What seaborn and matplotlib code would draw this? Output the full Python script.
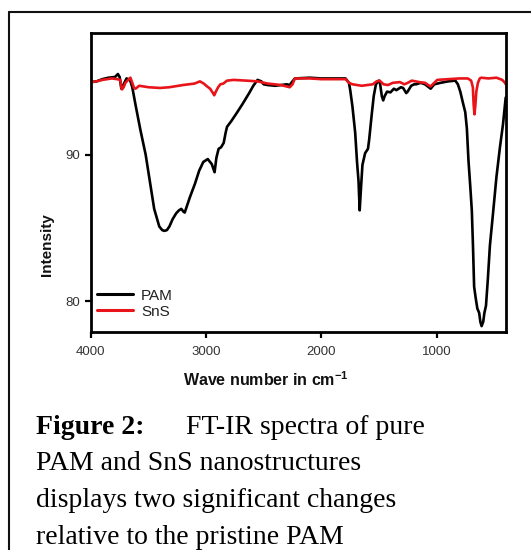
import matplotlib
matplotlib.use("Agg")
import matplotlib.pyplot as plt
import pandas as pd
import seaborn as sns
from matplotlib.lines import Line2D

# FT-IR data (wavenumber in cm-1, intensity)
pam_wn = [4000, 3950, 3900, 3847, 3790, 3765, 3750, 3735, 3715, 3690, 3660, 3640,
          3612, 3570, 3524, 3490, 3450, 3406, 3380, 3362, 3340, 3318, 3290, 3259,
          3235, 3215, 3195, 3185, 3140, 3097, 3060, 3024, 2985, 2950, 2935, 2926,
          2910, 2891, 2870, 2847, 2830, 2818, 2780, 2729, 2680, 2626, 2590, 2553,
          2520, 2500, 2465, 2400, 2347, 2300, 2274, 2250, 2229, 2100, 2000, 1900,
          1790, 1760, 1749, 1730, 1706, 1690, 1677, 1667, 1655, 1643, 1620, 1595,
          1585, 1563, 1545, 1526, 1500, 1491, 1475, 1463, 1450, 1429, 1400, 1370,
          1349, 1309, 1290, 1263, 1251, 1220, 1194, 1177, 1137, 1100, 1051, 1020,
          966, 900, 837, 815, 794, 770, 751, 737, 723, 708, 694, 684, 674, 660,
          646, 630, 620, 609, 595, 585, 571, 555, 537, 510, 480, 450, 423, 400]
pam_val = [94.95, 95.0, 95.15, 95.25, 95.3, 95.5, 95.3, 94.5, 94.8, 95.2, 95.1, 94.6,
           93.4, 91.7, 90.0, 88.3, 86.3, 85.1, 84.85, 84.8, 84.85, 85.1, 85.6, 86.0,
           86.2, 86.3, 86.1, 86.05, 87.1, 88.0, 88.9, 89.5, 89.7, 89.35, 89.0, 88.8,
           89.8, 90.4, 90.5, 90.8, 91.5, 91.9, 92.3, 92.9, 93.5, 94.2, 94.7, 95.1,
           95.0, 94.8, 94.75, 94.7, 94.75, 94.8, 94.75, 95.0, 95.2, 95.25, 95.2, 95.2,
           95.2, 94.9, 94.4, 93.3, 91.5, 89.5, 88.2, 86.2, 87.8, 89.3, 90.1, 90.4,
           91.0, 92.7, 94.0, 94.8, 95.05, 94.9, 94.0, 93.7, 94.0, 94.3, 94.25, 94.5,
           94.4, 94.6, 94.55, 94.2, 94.3, 94.7, 94.8, 94.8, 94.9, 94.8, 94.5, 94.8,
           94.9, 95.0, 95.05, 94.8, 94.3, 93.5, 92.9, 91.8, 89.6, 87.9, 86.2, 83.8,
           81.0, 80.2, 79.5, 79.2, 78.6, 78.3, 78.6, 79.2, 79.7, 81.5, 83.8, 86.0,
           88.5, 90.5, 92.1, 93.9]

sns_wn = [4000, 3950, 3900, 3818, 3770, 3744, 3735, 3729, 3715, 3700, 3670, 3656,
          3640, 3625, 3612, 3580, 3500, 3400, 3318, 3200, 3100, 3053, 3020, 2990,
          2965, 2940, 2929, 2915, 2895, 2876, 2850, 2818, 2760, 2650, 2553, 2465,
          2350, 2274, 2250, 2229, 2100, 2000, 1900, 1788, 1760, 1729, 1650, 1600,
          1553, 1520, 1494, 1460, 1421, 1380, 1318, 1280, 1250, 1215, 1150, 1100,
          1053, 1020, 994, 900, 800, 729, 700, 685, 678, 671, 664, 655, 641, 625,
          612, 550, 480, 430, 406, 400]
sns_val = [94.95, 95.0, 95.1, 95.2, 95.15, 95.1, 94.6, 94.45, 94.6, 94.9, 95.15, 95.25,
           94.9, 94.55, 94.5, 94.7, 94.6, 94.55, 94.6, 94.75, 94.85, 95.0, 94.85, 94.65,
           94.5, 94.2, 94.05, 94.3, 94.6, 94.8, 94.85, 95.05, 95.1, 95.05, 95.0, 94.85,
           94.75, 94.6, 94.8, 95.2, 95.2, 95.15, 95.15, 95.15, 94.9, 94.8, 94.7, 94.75,
           94.8, 95.0, 95.05, 94.8, 94.75, 94.9, 94.95, 94.8, 94.9, 95.05, 94.95, 94.9,
           94.65, 94.9, 95.1, 95.15, 95.2, 95.2, 95.05, 94.6, 93.4, 92.75, 93.3, 94.3,
           94.9, 95.2, 95.25, 95.2, 95.25, 95.1, 94.9, 94.8]

series_names = ["PAM", "SnS"]
series_colors = ["#000000", "#e8141a"]

df = pd.concat([
    pd.DataFrame({"wn": pam_wn, "val": pam_val, "sample": "PAM"}),
    pd.DataFrame({"wn": sns_wn, "val": sns_val, "sample": "SnS"}),
], ignore_index=True)

sns.set_style("ticks")
plt.rcParams["font.family"] = ["Liberation Sans", "DejaVu Sans"]
plt.rcParams["mathtext.fontset"] = "custom"
plt.rcParams["mathtext.bf"] = "Liberation Sans:bold"
plt.rcParams["mathtext.rm"] = "Liberation Sans"

W, H = 531, 550
fig = plt.figure(figsize=(W / 100, H / 100), dpi=100)
ax = fig.add_axes([90.8 / W, 1 - 332 / H, (505.7 - 90.8) / W, (332 - 33) / H])

sns.lineplot(data=df, x="wn", y="val", hue="sample", palette=series_colors,
             hue_order=series_names, sort=False, estimator=None, lw=1.9,
             legend=False, ax=ax)

ax.set_xlim(4000, 400)
ax.set_ylim(77.9, 98.3)
ax.set_xticks([4000, 3000, 2000, 1000])
ax.set_yticks([80, 90])
ax.set_xlabel("")
ax.set_ylabel("")
for s in ax.spines.values():
    s.set_linewidth(2.0)
    s.set_edgecolor("black")
    s.set_visible(True)
ax.tick_params(width=1.6, length=4.5, labelsize=9.5, labelcolor="#333333",
               color="black", pad=3)
ax.tick_params(axis="x", pad=5.5)

handles = [Line2D([], [], color=c, lw=2.2) for c in series_colors]
leg = ax.legend(handles, series_names, loc="lower left", bbox_to_anchor=(0.014, 0.045),
                frameon=False, fontsize=11, handlelength=2.4, handletextpad=0.5,
                labelspacing=0.12, borderpad=0, borderaxespad=0)
for t in leg.get_texts():
    t.set_color("#222222")

fig.text(183 / W, 1 - 386 / H, r"Wave number in cm$^{\mathbf{-1}}$", fontsize=11.5,
         fontweight="bold", ha="left", va="baseline", color="#111111")
fig.text(47 / W, 1 - 245 / H, "Intensity", fontsize=11, fontweight="bold",
         rotation=90, ha="center", va="center", color="#111111")

# page frame (top and left edges only)
fig.add_artist(Line2D([9 / W, 1], [1 - 12 / H, 1 - 12 / H], transform=fig.transFigure,
                      color="#111111", lw=1.5))
fig.add_artist(Line2D([9 / W, 9 / W], [0, 1 - 12 / H], transform=fig.transFigure,
                      color="#111111", lw=1.5))

# caption
serif = ["Liberation Serif", "DejaVu Serif"]
fig.text(35.6 / W, 1 - 434 / H, "Figure 2:", family=serif, fontsize=20,
         fontweight="bold", va="baseline", color="black")
fig.text(185.6 / W, 1 - 434 / H, "FT-IR spectra of pure", family=serif, fontsize=20,
         va="baseline", color="black")
caption_lines = ["PAM and SnS nanostructures", "displays two significant changes",
                 "relative to the pristine PAM"]
for txt, base in zip(caption_lines, [470.5, 507.0, 543.5]):
    fig.text(35.6 / W, 1 - base / H, txt, family=serif, fontsize=20, va="baseline",
             color="black")

fig.savefig("out.png", dpi=100)
